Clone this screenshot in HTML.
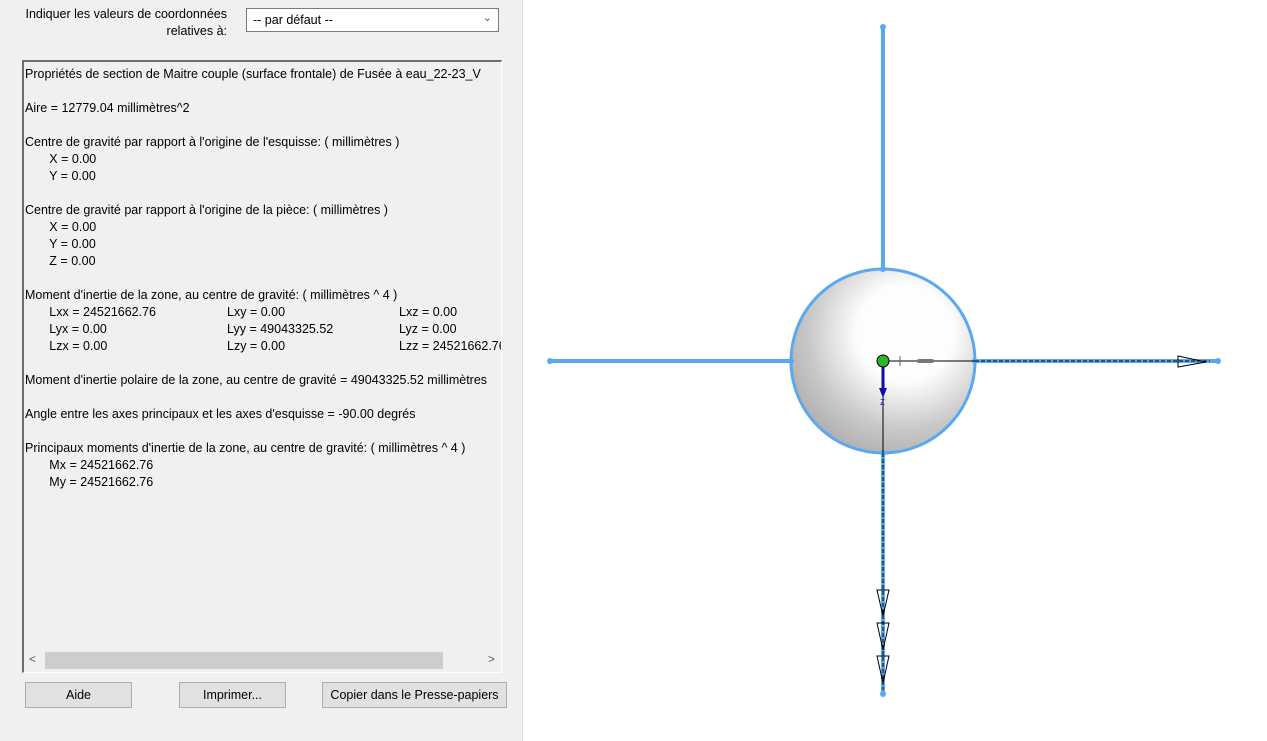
<!DOCTYPE html>
<html><head><meta charset="utf-8"><style>
body{margin:0;width:1267px;height:741px;overflow:hidden;background:#fff;font-family:"Liberation Sans",sans-serif;font-size:12px;color:#000;position:relative}
#left{position:absolute;left:0;top:0;width:522px;height:741px;background:#f0f0f0;border-right:1px solid #ddd}
.a{position:absolute;white-space:nowrap}
#box{position:absolute;left:22px;top:60px;width:477px;height:610px;background:#f0f0f0;border-left:2px solid #6d6d6d;border-top:2px solid #6d6d6d;border-right:1px solid #fff;border-bottom:1px solid #fff;overflow:hidden}
.btn{position:absolute;top:682px;height:26px;background:#e1e1e1;border:1px solid #adadad;box-sizing:border-box;text-align:center;line-height:24px;font-size:12.5px}
</style></head><body>
<div id="left">
<div class="a" style="left:0;width:227px;top:6px;text-align:right;line-height:17px;font-size:12.5px">Indiquer les valeurs de coordonnées<br>relatives à:</div>
<div class="a" style="left:246px;top:8px;width:253px;height:24px;background:#fff;border:1px solid #7a7a7a;box-sizing:border-box"><span style="position:absolute;left:6px;top:4px;font-size:12.5px">-- par défaut --</span><span style="position:absolute;right:6px;top:2px;font-size:11px;color:#555">&#8964;</span></div>
<div id="box">
<div style="position:absolute;left:1px;top:4px;line-height:17px;font-size:12.5px;white-space:pre">Propriétés de section de Maitre couple (surface frontale) de Fusée à eau_22-23_V

Aire = 12779.04 millimètres^2

Centre de gravité par rapport à l'origine de l'esquisse: ( millimètres )
       X = 0.00
       Y = 0.00

Centre de gravité par rapport à l'origine de la pièce: ( millimètres )
       X = 0.00
       Y = 0.00
       Z = 0.00

Moment d'inertie de la zone, au centre de gravité: ( millimètres ^ 4 )
<span style="position:relative">       Lxx = 24521662.76<span style="position:absolute;left:202px">Lxy = 0.00</span><span style="position:absolute;left:374px">Lxz = 0.00</span></span>
<span style="position:relative">       Lyx = 0.00<span style="position:absolute;left:202px">Lyy = 49043325.52</span><span style="position:absolute;left:374px">Lyz = 0.00</span></span>
<span style="position:relative">       Lzx = 0.00<span style="position:absolute;left:202px">Lzy = 0.00</span><span style="position:absolute;left:374px">Lzz = 24521662.76</span></span>

Moment d'inertie polaire de la zone, au centre de gravité = 49043325.52 millimètres

Angle entre les axes principaux et les axes d'esquisse = -90.00 degrés

Principaux moments d'inertie de la zone, au centre de gravité: ( millimètres ^ 4 )
       Mx = 24521662.76
       My = 24521662.76</div>
<div style="position:absolute;left:0;top:589px;width:477px;height:19px;background:#f0f0f0">
<div style="position:absolute;left:21px;top:1px;width:398px;height:17px;background:#cdcdcd"></div>
<span style="position:absolute;left:5px;top:1px;color:#606060">&lt;</span><span style="position:absolute;right:6px;top:1px;color:#606060">&gt;</span></div>
</div>
<div class="btn" style="left:25px;width:107px">Aide</div>
<div class="btn" style="left:179px;width:107px">Imprimer...</div>
<div class="btn" style="left:322px;width:185px">Copier dans le Presse-papiers</div>
</div>
<svg style="position:absolute;left:0;top:0" width="1267" height="741">
<defs><radialGradient id="g" cx="0.62" cy="0.35" r="0.75"><stop offset="0" stop-color="#fff"/><stop offset="0.35" stop-color="#fdfdfd"/><stop offset="0.7" stop-color="#c8c8c8"/><stop offset="1" stop-color="#a8a8a8"/></radialGradient></defs>
<g stroke="#5aa9f0" stroke-width="4">
<line x1="883" y1="27" x2="883" y2="269"/><line x1="883" y1="453" x2="883" y2="694"/>
<line x1="550" y1="361" x2="791" y2="361"/><line x1="975" y1="361" x2="1218" y2="361"/>
</g>
<circle cx="883" cy="361" r="92" fill="url(#g)" stroke="#5aa9f0" stroke-width="3"/>
<g fill="#5aa9f0"><circle cx="883" cy="27" r="3"/><circle cx="883" cy="694" r="3"/><circle cx="550" cy="361" r="3"/><circle cx="1218" cy="361" r="3"/><circle cx="883" cy="269" r="3"/><circle cx="883" cy="453" r="3"/><circle cx="791" cy="361" r="3"/><circle cx="975" cy="361" r="3"/></g>
<line x1="883" y1="361" x2="975" y2="361" stroke="#000" stroke-width="1"/>
<line x1="883" y1="361" x2="883" y2="453" stroke="#000" stroke-width="1"/>
<line x1="975" y1="361" x2="1210" y2="361" stroke="#000" stroke-width="1" stroke-dasharray="4 2"/>
<line x1="883" y1="453" x2="883" y2="690" stroke="#000" stroke-width="1" stroke-dasharray="4 2"/>
<polygon points="1178,356 1178,367 1206,362" fill="none" stroke="#000"/>
<g fill="none" stroke="#000">
<polygon points="877,590 889,590 883,616"/><polygon points="877,623 889,623 883,650"/><polygon points="877,656 889,656 883,683"/></g>
<line x1="883" y1="362" x2="883" y2="390" stroke="#1010a0" stroke-width="3"/>
<polygon points="879,388 887,388 883,398" fill="#1010a0"/>
<text x="880" y="405" font-size="8" fill="#2020c0" font-family="Liberation Sans">Z</text>
<line x1="900" y1="356" x2="900" y2="366" stroke="#666"/>
<rect x="917" y="359" width="17" height="4" rx="2" fill="#777"/>
<circle cx="883" cy="361" r="6" fill="#2ab52a" stroke="#000"/>
</svg>
</body></html>
